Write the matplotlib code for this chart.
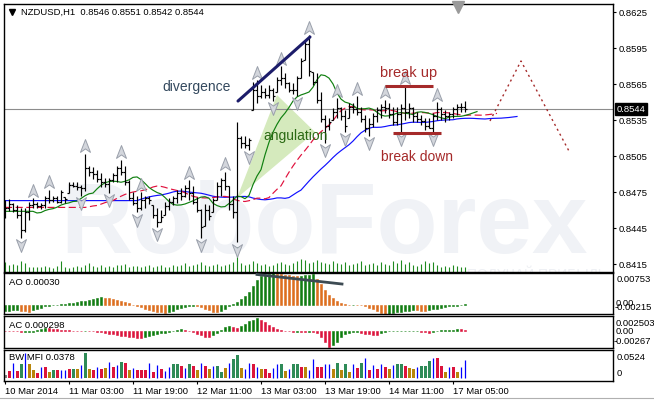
import numpy as np
import matplotlib
matplotlib.use('Agg')
import matplotlib.pyplot as plt
from matplotlib.path import Path
from matplotlib.transforms import blended_transform_factory

plt.rcParams['font.family'] = ['Liberation Sans', 'DejaVu Sans']

# ---------------- data ----------------
header = "NZDUSD,H1  0.8546 0.8551 0.8542 0.8544"
last_price = 0.8544
first_open = 8461
high = [8468, 8469, 8466, 8464, 8462, 8462, 8467, 8470, 8467, 8466,
        8472, 8477, 8472, 8472, 8477, 8471, 8483, 8483, 8483, 8481,
        8507, 8497, 8496, 8493, 8491, 8487, 8487, 8491, 8497, 8502,
        8497, 8485, 8475, 8472, 8475, 8472, 8472, 8464, 8462, 8460,
        8467, 8470, 8472, 8477, 8478, 8481, 8485, 8480, 8471, 8461,
        8465, 8464, 8470, 8483, 8487, 8492, 8480, 8472, 8533, 8522,
        8522, 8520, 8567, 8568, 8564, 8562, 8564, 8562, 8571, 8580,
        8574, 8567, 8566, 8572, 8587, 8602, 8606, 8575, 8574, 8558,
        8539, 8537, 8545, 8553, 8546, 8543, 8549, 8549, 8555, 8546,
        8539, 8537, 8541, 8546, 8548, 8552, 8549, 8546, 8546, 8548,
        8564, 8549, 8546, 8542, 8539, 8537, 8537, 8541, 8550, 8546,
        8543, 8542, 8546, 8548, 8549, 8551]
low = [8453, 8459, 8458, 8453, 8437, 8442, 8452, 8462, 8462, 8461,
       8462, 8466, 8467, 8466, 8466, 8466, 8474, 8479, 8477, 8472,
       8476, 8488, 8486, 8483, 8479, 8479, 8474, 8483, 8483, 8489,
       8481, 8468, 8464, 8458, 8460, 8462, 8465, 8453, 8446, 8450,
       8456, 8460, 8464, 8466, 8468, 8471, 8468, 8465, 8458, 8437,
       8447, 8452, 8458, 8468, 8472, 8477, 8460, 8453, 8433, 8512,
       8512, 8510, 8543, 8549, 8553, 8553, 8553, 8551, 8558, 8564,
       8562, 8558, 8557, 8555, 8570, 8585, 8572, 8564, 8549, 8533,
       8516, 8527, 8535, 8537, 8535, 8525, 8537, 8541, 8539, 8533,
       8525, 8522, 8529, 8533, 8537, 8541, 8537, 8531, 8531, 8525,
       8535, 8537, 8533, 8533, 8531, 8527, 8528, 8525, 8535, 8535,
       8533, 8535, 8537, 8539, 8542, 8542]
close = [8462, 8465, 8460, 8456, 8443, 8458, 8464, 8465, 8463, 8464,
         8470, 8468, 8470, 8467, 8475, 8469, 8481, 8480, 8479, 8478,
         8495, 8492, 8490, 8486, 8483, 8482, 8485, 8489, 8495, 8492,
         8483, 8470, 8466, 8462, 8468, 8470, 8468, 8456, 8450, 8454,
         8463, 8467, 8470, 8474, 8472, 8478, 8474, 8467, 8460, 8446,
         8460, 8455, 8468, 8480, 8485, 8480, 8465, 8458, 8520, 8516,
         8514, 8518, 8560, 8555, 8558, 8556, 8560, 8555, 8568, 8570,
         8566, 8560, 8560, 8570, 8584, 8598, 8576, 8567, 8552, 8536,
         8530, 8533, 8542, 8545, 8538, 8530, 8546, 8544, 8542, 8536,
         8528, 8532, 8538, 8543, 8546, 8545, 8540, 8533, 8540, 8545,
         8542, 8545, 8538, 8536, 8534, 8530, 8528, 8538, 8544, 8540,
         8538, 8540, 8544, 8546, 8546, 8544]
volume = [930, 670, 730, 670, 1100, 830, 500, 430, 500, 430, 600, 500, 400, 600, 1100,
          500, 400, 430, 600, 500, 670, 830, 600, 430, 670, 500, 600, 430, 670,
          700, 800, 500, 550, 600, 500, 600, 650, 500, 550, 700, 450, 500, 650, 550,
          700, 900, 600, 650, 800, 950, 700, 600, 650, 750, 550, 700, 800, 950,
          2500,
          900, 700, 800, 1100, 900, 700, 800, 600, 700, 900, 1000, 800, 700, 900, 1100,
          1300, 1200, 900, 1000, 1200,
          1000, 900, 800, 1100, 900, 800, 1000, 700, 800, 900, 1100, 700, 800, 900, 700,
          1000, 800, 700, 1100, 900, 1200, 800, 1000, 700, 600, 800, 1100, 900, 1000, 700,
          500, 600, 500, 700, 600, 500, 450]
up_fractals = [7, 11, 20, 29, 34, 46, 55, 63, 69, 76, 83, 88, 95, 100, 108]
down_fractals = [4, 19, 26, 33, 38, 49, 58, 61, 67, 73, 80, 85, 91, 99, 107]

ao = [-14, -13, -12.5, -12, -13, -14, -15, -12, -9, -6,
      -3, -1, 0.5, 1.5, 2.5, 3.5, 4.5, 6, 7.5, 9,
      11, 13, 15, 17, 19, 18, 16, 14, 12, 10,
      7, 4, 1, -2, -5, -8, -11, -13, -15, -17,
      -18, -16, -13, -10, -7, -4, -2, -1.5, -2.5, -4,
      -8, -12, -16, -17, -14, -9, -3, 3, 8, 15,
      22, 32, 45, 60, 68, 72, 74, 75, 74, 73,
      72, 71, 70, 69, 70, 71, 72, 72.5, 62, 50,
      37, 25, 17, 10, 4, 2, 1, 1.5, 1, 0,
      -3, -6, -10, -14, -18, -21, -20, -18, -16, -15,
      -14, -13, -12, -12.5, -13, -13.5, -12, -10, -8, -6,
      -4.5, -3, -2, -1, 1, 3]
ac = [0.8, 0.5, 0.3, 0.0, -1.5, -1.2, -0.8, -0.3, 2, 4,
      5.5, 5, 4, 3.5, 3, 2.5, 2, 1.5, 1, 0.5,
      0.6, 0.3, 0, -0.3, -0.6, -2, -3.5, -4.5, -5.5, -6.5,
      -7.5, -8.5, -9.5, -10, -10.5, -9, -7.5, -6, -4.5, -3,
      -2, -0.5, 1.5, 3, 4, 3, 1, -1.5, -4, -6,
      -8, -8.5, -6, -2, 3, 7, 9, 7, 5.5, 8,
      12, 16, 19, 21, 18, 15, 11, 7, 4, 2,
      1, 0, -0.5, -0.3, -0.6, -1, -0.8, -1.5, -3, -8,
      -16, -24, -22, -16, -8, -4, -2, -1, -0.5, -2,
      -3.5, -4.5, -5, -6, -3, -1.5, 0.2, 0.4, 0.6, 0.8,
      1.0, 1.2, 1.3, 1.4, -1, -1.5, -1.8, -0.5, 1, 2,
      2.3, 2.6, 3, 3.6, 3.2, 3.0]
mfi = [68, 150, 306, 150, 292, 510, 292, 170, 102, 238,
       238, 136, 170, 163, 170, 170, 184, 184, 184, 272,
       524, 184, 170, 238, 190, 204, 340, 238, 272, 326,
       306, 170, 218, 170, 170, 170, 306, 136, 272, 184,
       150, 238, 292, 286, 258, 204, 292, 252, 170, 306,
       252, 190, 252, 252, 136, 204, 306, 388, 476, 218,
       184, 306, 292, 238, 184, 184, 116, 204, 292, 292,
       150, 190, 292, 292, 238, 238, 170, 388, 238, 238,
       292, 292, 184, 306, 170, 292, 136, 286, 218, 320,
       408, 170, 272, 190, 292, 238, 190, 272, 286, 292,
       252, 204, 184, 238, 252, 252, 354, 408, 408, 252,
       136, 238, 224, 122, 238, 378]
mfi_kind = ("nsbsgbffsb" "sfgsbbsgfb" "gfsbsfbsbg" "sfbsssbsbs" "bbggsbgsfb"
            "sfbggfbggf" "bbsbfssbbg" "fbggsfbbss" "bbfgfgfbsg" "bsbsbsfbgg"
            "sffbgggbss" "fbsfbb")

time_idx = [0, 16, 32, 48, 64, 80, 96, 112]
time_labels = ['10 Mar 2014', '11 Mar 03:00', '11 Mar 19:00', '12 Mar 11:00',
               '13 Mar 03:00', '13 Mar 19:00', '14 Mar 11:00', '17 Mar 05:00']
price_ticks = [0.8415, 0.8445, 0.8475, 0.8505, 0.8535, 0.8565, 0.8595, 0.8625]

divergence_line = ([58.25, 76.25], [0.85508, 0.86042])
angulation_poly = ([58, 68, 77.5], [0.8470, 0.85558, 0.8525])
break_up = ([95, 107], 0.85633)
break_down = ([97, 109], 0.85242)
forecast = ([121.25, 129, 141.25], [0.85342, 0.85842, 0.85075])
ao_div_line = ([63, 84.25], [0.00725, 0.00500])
ao_labels = ['0.00753', '0.00', '-0.00215']
ac_labels = ['0.002503', '0.00', '-0.00267']
mfi_labels = ['0.0524', '0']
ao_text, ac_text, mfi_text = 'AO 0.00030', 'AC 0.000298', 'BW MFI 0.0378'
# (period, shift) of the three smoothed median-price lines
ma_settings = [(21, 13, '#1010ff'), (13, 8, '#e0103c'), (5, 3, '#108010')]

# ---------------- prep ----------------
H = np.array(high) / 1e4
L = np.array(low) / 1e4
C = np.array(close) / 1e4
O = np.clip(np.concatenate([[first_open / 1e4], C[:-1]]), L, H)
n = len(H)
x = np.arange(n)
med = (H + L) / 2


def smma(src, p):
    out = np.empty(len(src))
    out[:p] = src[:p].mean()
    for i in range(p, len(src)):
        out[i] = (out[i - 1] * (p - 1) + src[i]) / p
    return out


W, HH = 654, 400


def rect(l, t, r, b):
    return [l / W, 1 - b / HH, (r - l) / W, (b - t) / HH]


def fx(p):
    return p / W


def fy(p):
    return 1 - p / HH


fig = plt.figure(figsize=(6.54, 4.0), dpi=100)
fig.patch.set_facecolor('white')

XL = (-0.25, 152)
ax = fig.add_axes(rect(4, 4, 613, 271.5))
ao_ax = fig.add_axes(rect(4, 273.3, 613, 314.3))
ac_ax = fig.add_axes(rect(4, 315.7, 613, 348.3))
mfi_ax = fig.add_axes(rect(4, 350, 613, 381))
for a in (ax, ao_ax, ac_ax, mfi_ax):
    a.set_xlim(*XL)
    for s in a.spines.values():
        s.set_color('black')
        s.set_linewidth(1.0)
    a.tick_params(axis='x', bottom=False, labelbottom=False)
    a.tick_params(axis='y', left=False, labelleft=False, right=False, labelright=False)

# ---------------- main chart ----------------
ax.set_ylim(0.840875, 0.863167)
# watermark
ax.text(0.525, 0.07, 'RoboForex', transform=ax.transAxes, ha='center', va='baseline',
        fontsize=72, fontweight='bold', color='#f0f2f6', zorder=0.2)
ax.text(0.875, -0.012, 'ПОЛУЧАЙ ПРИБЫЛЬ', transform=ax.transAxes, ha='center', va='center',
        fontsize=10, color='#eef0f4', zorder=0.2, clip_on=True)

ax.fill(angulation_poly[0], angulation_poly[1], color='#d5eabd', lw=0, zorder=1)
ax.axhline(last_price, color='#8c8c8c', lw=0.8, zorder=1.2)

# volumes
btr = blended_transform_factory(ax.transData, ax.transAxes)
ax.vlines(x, 0, np.array(volume) / 26750.0, color='#1f8a1f', lw=0.8, transform=btr, zorder=1.5)

# smoothed lines (blue, red dashed, green)
for p, sh, col in ma_settings:
    s = smma(med, p)
    xs = np.concatenate([np.arange(sh), x + sh])
    ys = np.concatenate([np.full(sh, s[0]), s])
    ls = (0, (6, 3)) if col == '#e0103c' else '-'
    ax.plot(xs, ys, color=col, lw=0.85, ls=ls, zorder=2)

# OHLC bars
ax.vlines(x, L, H, color='black', lw=0.85, zorder=3)
ax.hlines(O, x - 0.45, x, color='black', lw=0.85, zorder=3)
ax.hlines(C, x, x + 0.45, color='black', lw=0.85, zorder=3)

# fractals
up_m = Path([(0, 1), (0.72, -0.85), (0, -0.35), (-0.72, -0.85), (0, 1)],
            [Path.MOVETO, Path.LINETO, Path.LINETO, Path.LINETO, Path.CLOSEPOLY])
dn_m = Path([(0, -1), (0.72, 0.85), (0, 0.35), (-0.72, 0.85), (0, -1)],
            [Path.MOVETO, Path.LINETO, Path.LINETO, Path.LINETO, Path.CLOSEPOLY])
ui = np.array(up_fractals)
di = np.array(down_fractals)
ax.plot(ui, H[ui] + 0.0006, ls='none', marker=up_m, ms=10, mfc='#d3d6dc', mec='#9aa0ab', mew=0.7, zorder=5)
ax.plot(di, L[di] - 0.0006, ls='none', marker=dn_m, ms=10, mfc='#d3d6dc', mec='#9aa0ab', mew=0.7, zorder=5)

# annotations
ax.plot(divergence_line[0], divergence_line[1], color='#1c1c6a', lw=2.2, solid_capstyle='round', zorder=6)
ax.hlines(break_up[1], break_up[0][0], break_up[0][1], color='#a52a2a', lw=2.2, zorder=6)
ax.hlines(break_down[1], break_down[0][0], break_down[0][1], color='#a52a2a', lw=2.2, zorder=6)
ax.plot(forecast[0], forecast[1], color='#a52a2a', lw=1.0, ls=(0, (1.5, 2.5)), zorder=6)
ax.text(48, 0.85625, 'divergence', ha='center', va='center', fontsize=10, color='#34495e', zorder=7)
ax.text(72.75, 0.85217, 'angulation', ha='center', va='center', fontsize=10, color='#2b6a14', zorder=7)
ax.text(101, 0.8574, 'break up', ha='center', va='center', fontsize=10.5, color='#a52a2a', zorder=7)
ax.text(103, 0.8504, 'break down', ha='center', va='center', fontsize=10, color='#a52a2a', zorder=7)

# right price axis
ax.yaxis.tick_right()
ax.set_yticks(price_ticks)
ax.set_yticklabels(['%.4f' % v for v in price_ticks])
ax.tick_params(axis='y', right=True, labelright=True, length=2.5, width=0.8, pad=1.5,
               labelsize=6.8, colors='black')
ax.text(1.0055, last_price, '%.4f' % last_price,
        transform=blended_transform_factory(ax.transAxes, ax.transData), ha='left', va='center',
        fontsize=6.8, color='white', zorder=8, clip_on=False,
        bbox=dict(boxstyle='square,pad=0.18', fc='black', ec='black'))

# header and markers
fig.text(fx(21), fy(12.7), header, fontsize=6.8, va='center', ha='left')
fig.add_artist(plt.Line2D([fx(12)], [fy(12)], marker='v', ms=5, color='black', ls='none'))
fig.add_artist(plt.Line2D([fx(458)], [fy(6.5)], marker='v', ms=8, color='#9a9a9a', ls='none'))

# ---------------- AO ----------------
aov = np.array(ao) / 1e4
ao_col = ['#137d13' if (i == 0 or aov[i] > aov[i - 1]) else '#dd6f1f' for i in range(n)]
ao_ax.bar(x, aov, width=0.72, color=ao_col, edgecolor=ao_col, lw=0.4, zorder=2)
ao_ax.plot(ao_div_line[0], ao_div_line[1], color='#3d4b53', lw=2.0, zorder=4)
ao_ax.set_ylim(-0.00215, 0.00753)
fig.text(fx(9), fy(282.3), ao_text, fontsize=6.8, va='center')
for t, yy, xx in zip(ao_labels, [280, 303.5, 307.5], [617, 616, 615]):
    fig.text(fx(xx), fy(yy), t, fontsize=6.8, va='center')

# ---------------- AC ----------------
acv = np.array(ac) / 1e4
ac_col = ['#0d7d0d' if (i > 0 and acv[i] > acv[i - 1]) else '#dc143c' for i in range(n)]
ac_ax.bar(x, acv, width=0.72, color=ac_col, edgecolor=ac_col, lw=0.4, zorder=2)
ac_ax.set_ylim(-0.00267, 0.002503)
fig.text(fx(9), fy(325), ac_text, fontsize=6.8, va='center')
for t, yy, xx in zip(ac_labels, [323, 331.7, 341.7], [616, 616, 614]):
    fig.text(fx(xx), fy(yy), t, fontsize=6.8, va='center')

# ---------------- BW MFI ----------------
mv = np.array(mfi) / 1e4
kinds = np.array(list(mfi_kind))
cmap = {'g': '#2e8b57', 'f': '#b8860b', 's': '#dc143c', 'n': '#808080'}
wide = kinds != 'b'
mfi_ax.bar(x[wide], mv[wide], width=0.75, color=[cmap[k] for k in kinds[wide]], lw=0, zorder=2)
mfi_ax.vlines(x[~wide], 0, mv[~wide], color='#0000ff', lw=0.9, zorder=2)
mfi_ax.set_ylim(-0.0055, 0.0577)
fig.text(fx(9), fy(358), mfi_text, fontsize=6.8, va='center')
fig.text(fx(617), fy(357), mfi_labels[0], fontsize=6.8, va='center')
fig.text(fx(617), fy(373), mfi_labels[1], fontsize=6.8, va='center')

mfi_ax.set_xticks(time_idx)
mfi_ax.set_xticklabels(time_labels)
mfi_ax.tick_params(axis='x', bottom=True, labelbottom=True, length=2.5, width=0.8, pad=1.5,
                   labelsize=6.8, colors='black')
for lab in mfi_ax.get_xticklabels():
    lab.set_ha('left')

# window edge
fig.add_artist(plt.Line2D([0, 1], [fy(397.5), fy(397.5)], color='#b0b0b0', lw=0.8))

fig.savefig('out.png', dpi=100, facecolor='white')
